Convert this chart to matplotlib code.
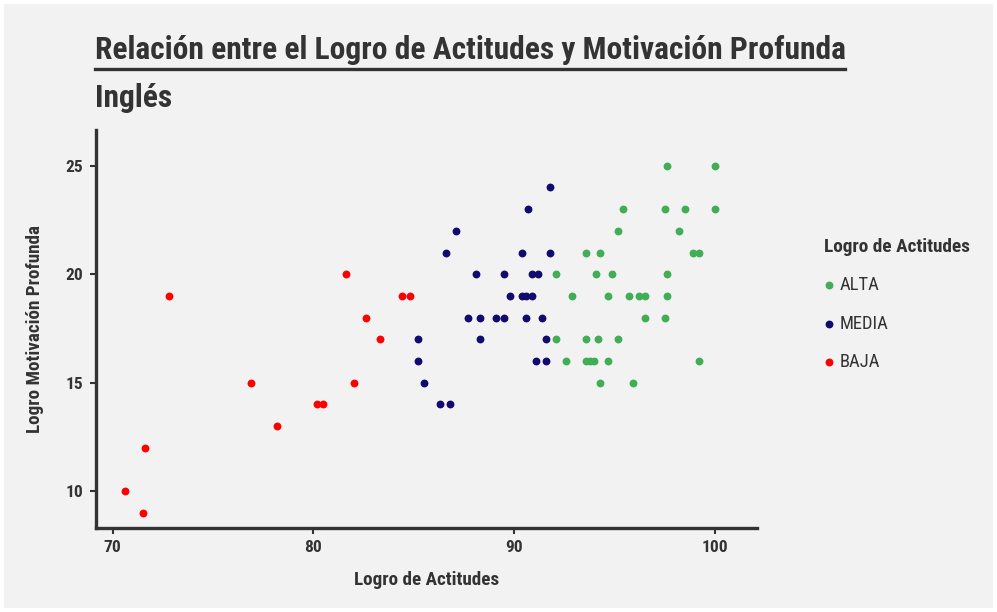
import matplotlib
matplotlib.use('Agg')

import matplotlib.pyplot as plt
from matplotlib import font_manager
from matplotlib.lines import Line2D
from matplotlib.patches import Rectangle

# ── Datos ─────────────────────────────────────────────────────────────────────
alta_x = [97.6, 100.0, 95.4, 97.5, 98.5, 100.0, 95.2, 98.2, 93.6, 94.3, 98.9,
          99.2, 92.1, 94.1, 94.9, 97.6, 92.9, 94.7, 95.7, 96.2, 96.5, 97.6,
          96.5, 97.5, 92.1, 93.6, 94.2, 95.2, 92.6, 93.6, 93.8, 94.0, 94.7,
          99.2, 94.3, 95.9]
alta_y = [25, 25, 23, 23, 23, 23, 22, 22, 21, 21, 21,
          21, 20, 20, 20, 20, 19, 19, 19, 19, 19, 19,
          18, 18, 17, 17, 17, 17, 16, 16, 16, 16, 16,
          16, 15, 15]

media_x = [91.8, 90.7, 87.1, 86.6, 90.4, 91.8, 88.1, 89.5, 90.9, 91.2, 89.8,
           90.4, 90.6, 90.9, 87.7, 88.3, 89.1, 89.5, 90.6, 91.4, 85.2, 88.3,
           91.6, 85.2, 91.1, 91.6, 85.5, 86.3, 86.8]
media_y = [24, 23, 22, 21, 21, 21, 20, 20, 20, 20, 19,
           19, 19, 19, 18, 18, 18, 18, 18, 18, 17, 17,
           17, 16, 16, 16, 15, 14, 14]

baja_x = [72.8, 81.6, 84.4, 84.8, 82.6, 83.3, 76.9, 82.0, 80.2, 80.5, 78.2,
          71.6, 70.6, 71.5]
baja_y = [19, 20, 19, 19, 18, 17, 15, 15, 14, 14, 13,
          12, 10, 9]

categorias = ["ALTA", "MEDIA", "BAJA"]
colores = {"ALTA": "#41ad55", "MEDIA": "#110a6f", "BAJA": "#ff0000"}

# ── Fuente (condensada si existe) ─────────────────────────────────────────────
disponibles = {f.name for f in font_manager.fontManager.ttflist}
fuente = "DejaVu Sans"
for cand in ["Liberation Sans Narrow", "Roboto Condensed", "Open Sans", "Roboto"]:
    if cand in disponibles:
        fuente = cand
        break
plt.rcParams["font.family"] = [fuente, "DejaVu Sans"]

texto = "#333333"
fondo = "#f2f2f2"

fig = plt.figure(figsize=(9.97, 6.12), dpi=100, facecolor="white")
fig.patches.append(Rectangle((4 / 997, 4 / 612), 989 / 997, 604 / 612,
                             transform=fig.transFigure, facecolor=fondo,
                             edgecolor="none", zorder=-10))

ax = fig.add_axes([96 / 997, 1 - 528 / 612, (757 - 96) / 997, (528 - 130) / 612])
ax.set_facecolor(fondo)

datos = {"ALTA": (alta_x, alta_y), "MEDIA": (media_x, media_y),
         "BAJA": (baja_x, baja_y)}
for cat in categorias:
    xs, ys = datos[cat]
    ax.scatter(xs, ys, s=32, color=colores[cat], linewidths=0, label=cat,
               zorder=3)

ax.set_xlim(69.17, 102.1)
ax.set_ylim(8.3, 26.65)
ax.set_xticks([70, 80, 90, 100])
ax.set_yticks([10, 15, 20, 25])

for lado in ["top", "right"]:
    ax.spines[lado].set_visible(False)
for lado in ["left", "bottom"]:
    ax.spines[lado].set_linewidth(2.4)
    ax.spines[lado].set_color(texto)
ax.tick_params(length=4, width=1.5, color=texto, labelcolor=texto,
               labelsize=12.5, pad=5)
for lab in ax.get_xticklabels() + ax.get_yticklabels():
    lab.set_fontweight("bold")

ax.set_xlabel("Logro de Actitudes", fontsize=13.8, fontweight="bold",
              color=texto, labelpad=11)
ax.set_ylabel("Logro Motivación Profunda", fontsize=13.8, fontweight="bold",
              color=texto, labelpad=16)

# ── Títulos ───────────────────────────────────────────────────────────────────
fig.text(95 / 997, 1 - 59 / 612, "Relación entre el Logro de Actitudes y Motivación Profunda",
         fontsize=22.7, fontweight="bold", color=texto, va="baseline", ha="left")
fig.add_artist(Line2D([95 / 997, 845 / 997], [1 - 69 / 612, 1 - 69 / 612],
                      transform=fig.transFigure, color=texto, linewidth=2.4))
fig.text(95 / 997, 1 - 107 / 612, "Inglés", fontsize=22.7, fontweight="bold",
         color=texto, va="baseline", ha="left")

# ── Leyenda ───────────────────────────────────────────────────────────────────
leg = ax.legend(title="Logro de Actitudes", loc="upper left",
                bbox_to_anchor=((824 - 96) / 661, (528 - 238) / 398),
                borderaxespad=0, borderpad=0, frameon=False, fontsize=13.3,
                title_fontsize=13.9, handletextpad=0.35, labelspacing=1.1,
                markerscale=1.0, handlelength=0.5)
leg.get_title().set_fontweight("bold")
leg.get_title().set_color(texto)
leg._legend_box.align = "left"
for t in leg.get_texts():
    t.set_color(texto)

fig.savefig("out.png", dpi=100, facecolor="white")
